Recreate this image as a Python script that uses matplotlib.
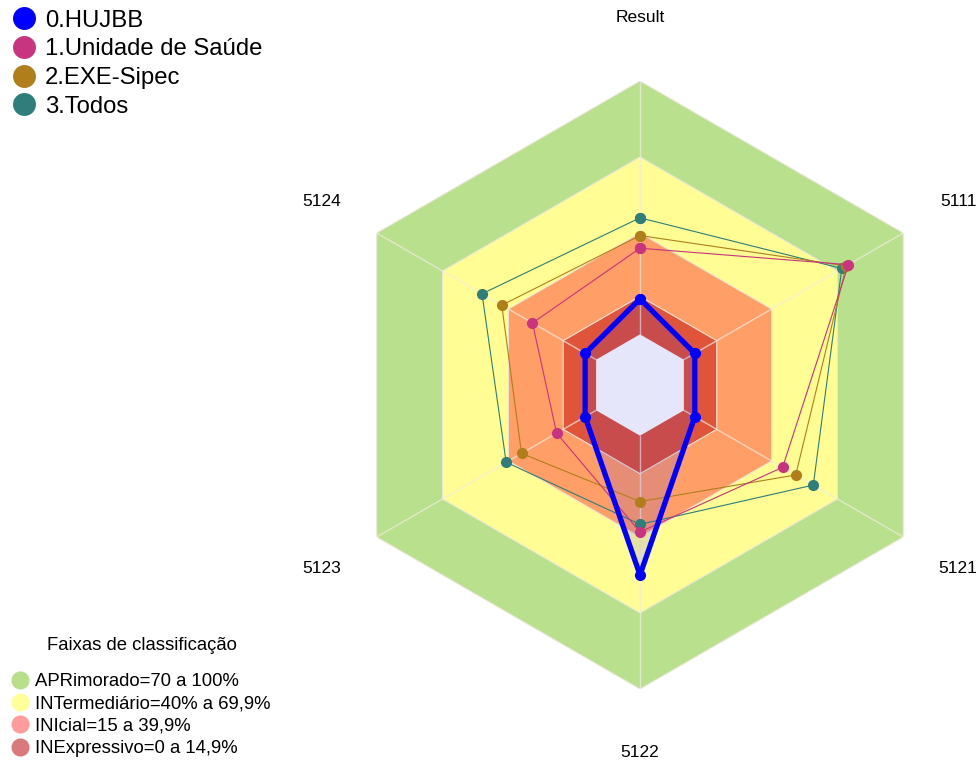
import numpy as np
import matplotlib.pyplot as plt
from matplotlib.lines import Line2D

plt.rcParams['font.family'] = ['Liberation Sans', 'DejaVu Sans']

# eixos do radar (sentido horário a partir do topo)
categorias = ['Result', '5111', '5121', '5122', '5123', '5124']

# séries (valores em %)
series_nomes = ['0.HUJBB', '1.Unidade de Saúde', '2.EXE-Sipec', '3.Todos']
hujbb = [14, 5, 5, 55, 5, 5]
unidade = [34, 75, 45, 38, 18, 29]
exe_sipec = [39, 74, 51, 26, 34, 43]
todos = [46, 72, 59, 35, 41, 52]

# faixas de classificação (limite superior de cada faixa)
faixas_nomes = ['APRimorado=70 a 100%', 'INTermediário=40% a 69,9%',
                'INIcial=15 a 39,9%', 'INExpressivo=0 a 14,9%']
faixas_lim = [100, 70, 40, 15]

cor_series = ['#0000FF', '#C8347F', '#B07F1C', '#2F7E7C']
cor_faixas = ['#B9E08C', '#FFFD93', '#FF9E66', '#E05539']
cor_leg_faixas = ['#B8DF8A', '#FFFF99', '#FF9C9C', '#D87A7A']

n = len(categorias)
ang = np.arange(n) * 2 * np.pi / n
ang_f = np.append(ang, ang[0])

def fechar(v):
    return np.append(v, v[0])

fig = plt.figure(figsize=(9.77, 7.6), dpi=100)
ax = fig.add_axes([0.3439, 0.0934, 0.6223, 0.8], projection='polar')
ax.set_theta_zero_location('N')
ax.set_theta_direction(-1)
ax.set_ylim(-20, 100)
ax.set_facecolor('none')
ax.spines['polar'].set_visible(False)
ax.grid(False)
ax.set_xticks([])
ax.set_yticks([])

# faixas de fundo (hexágonos)
for lim, cor in zip(faixas_lim, cor_faixas):
    ax.fill(ang_f, np.full(n + 1, lim), color=cor, lw=0.8, ec='#EAE6DA', zorder=1)

# raios
for a in ang:
    ax.plot([a, a], [0, 100], color='#F2EDE6', lw=1, alpha=0.7, zorder=2)

# preenchimento leve da série principal
ax.fill(ang_f, fechar(hujbb), color='#0000FF', alpha=0.1, lw=0, zorder=3)

# centro (abaixo de zero)
ax.fill(ang_f, np.zeros(n + 1), color='#E6E6FA', lw=0, zorder=3.5)

# rótulos dos eixos
for a, lab in zip(ang, categorias):
    ax.text(a, 125, lab, ha='center', va='center', fontsize=12.5, clip_on=False)

dados = [hujbb, unidade, exe_sipec, todos]
for i in [3, 2, 1, 0]:
    lw = 3.8 if i == 0 else 0.8
    ax.plot(ang_f, fechar(dados[i]), color=cor_series[i], lw=lw,
            marker='o', ms=7, zorder=4 + (3 - i))

# legenda das séries
h1 = [Line2D([], [], ls='none', marker='o', ms=15.5, color=c) for c in cor_series]
fig.legend(h1, series_nomes, loc='upper left', bbox_to_anchor=(0.003, 1.0),
           frameon=False, fontsize=17.2, handletextpad=0.35, labelspacing=0.28,
           handlelength=1.0, borderaxespad=0.15, borderpad=0.25)

# legenda das faixas
fig.text(142 / 977, 1 - 645 / 760, 'Faixas de classificação', fontsize=13.3,
         ha='center', va='center')
h2 = [Line2D([], [], ls='none', marker='o', ms=12, color=c) for c in cor_leg_faixas]
fig.legend(h2, faixas_nomes, loc='lower left', bbox_to_anchor=(0.008, 0.0),
           frameon=False, fontsize=13.3, handletextpad=0.3, labelspacing=0.29,
           handlelength=1.0, borderaxespad=0.0, borderpad=0.15)

fig.savefig('out.png', dpi=100)
